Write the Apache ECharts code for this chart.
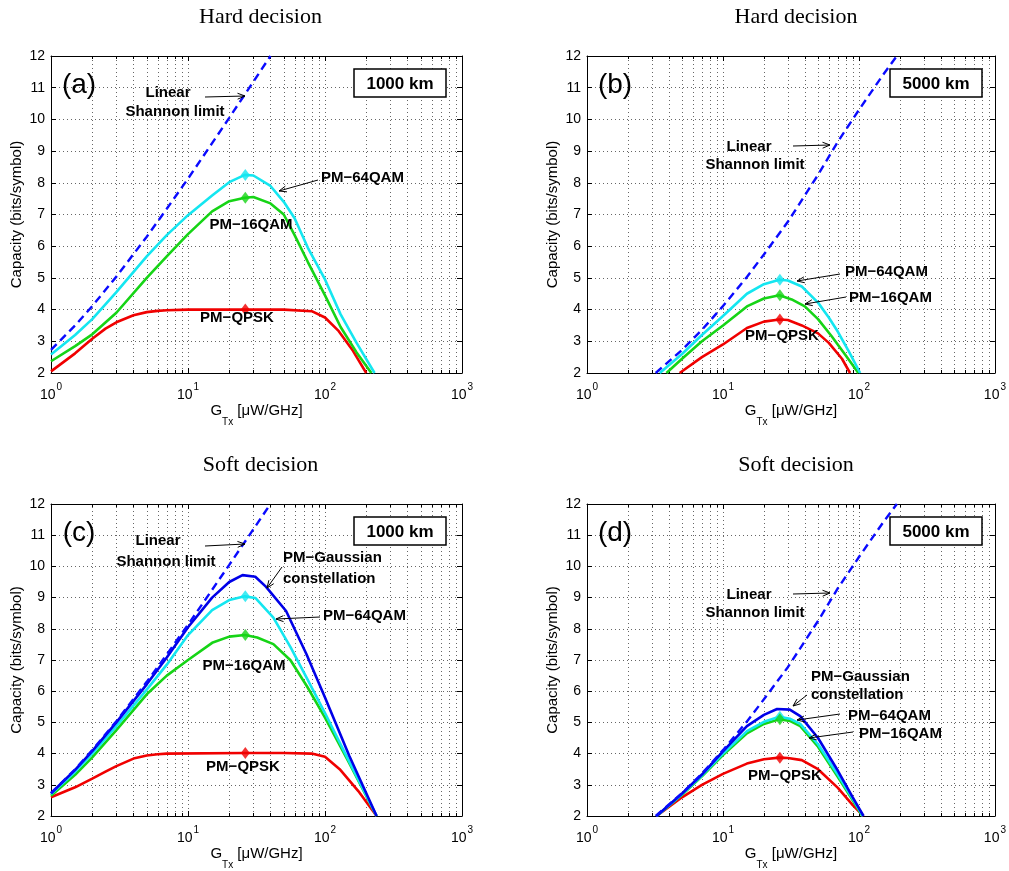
<!DOCTYPE html>
<html><head><meta charset="utf-8">
<script src="https://cdn.jsdelivr.net/npm/echarts@6/dist/echarts.min.js"></script>
<style>html,body{margin:0;padding:0;background:#fff}#chart{width:1009px;height:871px}</style>
</head><body><div id="chart"></div>
<script>
// ---------------- DATA ----------------
const xMinorTicks = [2,3,4,5,6,7,8,9,20,30,40,50,60,70,80,90,200,300,400,500,600,700,800,900];
const panelTitles = ['Hard decision','Hard decision','Soft decision','Soft decision'];
const panelLetters = ['(a)','(b)','(c)','(d)'];
const panelDistances = ['1000 km','5000 km','1000 km','5000 km'];

// Linear Shannon limit  [G_Tx, capacity]
const shannon1000 = [[1,2.73],[1.5,3.50],[2,4.11],[3,5.04],[5,6.30],[7,7.18],[10,8.13],[15,9.25],[20,10.05],[30,11.19],[40,12.0]];
const shannon5000 = [[3.2,2.0],[5,2.73],[7,3.36],[10,4.11],[15,5.03],[20,5.74],[30,6.77],[50,8.25],[70,9.3],[100,10.3],[150,11.4],[190,12.0]];

// (a) Hard decision, 1000 km
const hard1000Qam64 = [[1,2.58],[1.5,3.2],[2,3.7],[3,4.55],[5,5.68],[7,6.35],[10,6.98],[15,7.6],[20,8.02],[26,8.25],[30,8.23],[40,7.9],[50,7.4],[60,6.88],[75,5.95],[100,4.95],[130,3.85],[170,2.95],[230,2.0]];
const hard1000Qam16 = [[1,2.37],[1.5,2.85],[2,3.22],[3,3.9],[5,5.0],[7,5.68],[10,6.38],[15,7.1],[20,7.42],[26,7.53],[30,7.55],[40,7.35],[50,7.0],[60,6.35],[75,5.5],[100,4.45],[130,3.45],[170,2.65],[218,2.0]];
const hard1000Qpsk  = [[1,2.05],[1.5,2.62],[2,3.08],[2.5,3.4],[3,3.6],[4,3.82],[5,3.92],[6,3.96],[7,3.98],[10,4.0],[26,4.0],[50,4.0],[80,3.95],[100,3.75],[126,3.32],[160,2.7],[200,2.0]];
const hard1000Peaks = [[26.2,8.25],[26.2,7.53],[26.2,4.0]];

// (b) Hard decision, 5000 km
const hard5000Qam64 = [[3.43,2.0],[5,2.6],[7,3.2],[10,3.8],[15,4.5],[20,4.8],[26,4.94],[30,4.92],[38,4.73],[50,4.22],[60,3.75],[70,3.3],[85,2.65],[102,2.0]];
const hard5000Qam16 = [[3.84,2.0],[5,2.45],[7,3.0],[10,3.5],[15,4.1],[20,4.35],[26,4.45],[32,4.32],[40,4.1],[50,3.7],[63,3.16],[80,2.55],[99,2.0]];
const hard5000Qpsk  = [[4.8,2.0],[7,2.5],[10,2.9],[15,3.42],[20,3.62],[26,3.69],[30,3.67],[38,3.5],[50,3.25],[60,2.95],[75,2.45],[86,2.0]];
const hard5000Peaks = [[26.2,4.94],[26.2,4.45],[26.2,3.69]];

// (c) Soft decision, 1000 km
const soft1000Gauss = [[1,2.73],[1.5,3.48],[2,4.08],[3,5.0],[5,6.22],[7,7.08],[10,8.05],[15,9.0],[20,9.5],[25,9.72],[31,9.67],[37,9.35],[52,8.57],[73,7.2],[100,5.8],[150,3.94],[238,2.0]];
const soft1000Qam64 = [[1,2.7],[1.5,3.42],[2,4.0],[3,4.88],[5,6.05],[7,6.85],[10,7.8],[15,8.6],[20,8.92],[26,9.04],[31,8.99],[42,8.36],[56,7.41],[74,6.4],[100,5.3],[150,3.75],[238,2.0]];
const soft1000Qam16 = [[1,2.65],[1.5,3.32],[2,3.88],[3,4.75],[5,5.9],[7,6.5],[10,7.0],[15,7.55],[20,7.75],[26,7.8],[32,7.72],[42,7.51],[56,6.99],[74,6.15],[100,5.15],[150,3.7],[238,2.0]];
const soft1000Qpsk  = [[1,2.6],[1.5,2.92],[2,3.2],[2.5,3.42],[3,3.6],[4,3.84],[5,3.94],[6,3.98],[7,4.0],[26,4.02],[50,4.02],[80,4.0],[100,3.9],[128,3.5],[175,2.8],[238,2.0]];
const soft1000Peaks = [[26.2,9.04],[26.2,7.8],[26.2,4.02]];

// (d) Soft decision, 5000 km
const soft5000Gauss = [[3.25,2.0],[5,2.72],[7,3.33],[10,4.07],[15,4.88],[20,5.24],[25,5.43],[31,5.41],[37,5.2],[50,4.5],[70,3.45],[90,2.6],[108,2.0]];
const soft5000Qam64 = [[3.25,2.0],[5,2.7],[7,3.3],[10,4.0],[15,4.72],[20,5.02],[26,5.18],[31,5.12],[37,4.95],[50,4.3],[70,3.32],[90,2.55],[107,2.0]];
const soft5000Qam16 = [[3.25,2.0],[5,2.68],[7,3.27],[10,3.95],[15,4.65],[20,4.95],[26,5.1],[31,5.05],[37,4.88],[50,4.22],[70,3.25],[90,2.5],[106,2.0]];
const soft5000Qpsk  = [[3.25,2.0],[5,2.6],[7,3.0],[10,3.35],[15,3.68],[20,3.82],[26,3.87],[30,3.86],[38,3.79],[50,3.5],[70,2.9],[90,2.35],[108,2.0]];
const soft5000Peaks = [[26.2,5.18],[26.2,5.1],[26.2,3.87]];

// ---------------- STYLE ----------------
const SANS = 'Liberation Sans, Arial, Helvetica, sans-serif';
const SERIF = 'Liberation Serif, Times New Roman, serif';
const RED = '#f00000', GREEN = '#16d416', CYAN = '#14e6f0', BLUE = '#0000e8', SHANNON = '#0a0aff';
const GRID_DOT = '#666';

const grids = [
  {left:51, top:56, width:411, height:317},
  {left:587, top:56, width:410, height:317},
  {left:51, top:504, width:411, height:318},
  {left:587, top:504, width:410, height:318}
];

const panels = [
  {curves:[[hard1000Qpsk,RED],[hard1000Qam16,GREEN],[hard1000Qam64,CYAN]], shannon:shannon1000, peaks:hard1000Peaks},
  {curves:[[hard5000Qpsk,RED],[hard5000Qam16,GREEN],[hard5000Qam64,CYAN]], shannon:shannon5000, peaks:hard5000Peaks},
  {curves:[[soft1000Qpsk,RED],[soft1000Qam16,GREEN],[soft1000Qam64,CYAN],[soft1000Gauss,BLUE]], shannon:shannon1000, peaks:soft1000Peaks},
  {curves:[[soft5000Qpsk,RED],[soft5000Qam16,GREEN],[soft5000Qam64,CYAN],[soft5000Gauss,BLUE]], shannon:shannon5000, peaks:soft5000Peaks}
];
const peakColors = [CYAN, GREEN, RED];

const xAxes = [], yAxes = [], series = [], titles = [];
panels.forEach((p, i) => {
  const g = grids[i];
  titles.push({text: panelTitles[i], left: g.left + g.width/2 - 1, top: i < 2 ? 1 : 449, textAlign:'center',
    textStyle:{fontFamily:SERIF, fontSize:22, fontWeight:'normal', color:'#000'}});
  xAxes.push({
    gridIndex:i, type:'log', logBase:10, min:1, max:1000, position:'bottom',
    axisLine:{show:true, onZero:false, lineStyle:{color:'#000', width:1}},
    axisTick:{show:true, inside:true, length:5, lineStyle:{color:'#000'}},
    splitLine:{show:true, lineStyle:{color:GRID_DOT, width:1, type:[1,3]}},
    axisLabel:{margin:9, formatter: v => '{b|10}{s|' + Math.round(Math.log10(v)) + '}',
      rich:{ b:{fontFamily:SANS, fontSize:14, color:'#000', verticalAlign:'bottom', lineHeight:20},
             s:{fontFamily:SANS, fontSize:10, color:'#000', verticalAlign:'top', lineHeight:20, padding:[0,0,0,1]} }},
    name:'{n|G}{sub|Tx}{n| [μW/GHz]}', nameLocation:'middle', nameGap:30,
    nameTextStyle:{rich:{ n:{fontFamily:SANS, fontSize:15, color:'#000', verticalAlign:'top', lineHeight:24},
                          sub:{fontFamily:SANS, fontSize:10, color:'#000', verticalAlign:'bottom', lineHeight:24} }}
  });
  xAxes.push({
    gridIndex:i, type:'log', logBase:10, min:1, max:1000, position:'top',
    axisLine:{show:true, onZero:false, lineStyle:{color:'#000', width:1}},
    axisTick:{show:true, inside:true, length:5, lineStyle:{color:'#000'}},
    axisLabel:{show:false}, splitLine:{show:false}
  });
  yAxes.push({
    gridIndex:i, type:'value', min:2, max:12, interval:1, position:'left',
    axisLine:{show:true, onZero:false, lineStyle:{color:'#000', width:1}},
    axisTick:{show:true, inside:true, length:5, lineStyle:{color:'#000'}},
    splitLine:{show:true, lineStyle:{color:GRID_DOT, width:1, type:[1,3]}},
    axisLabel:{fontFamily:SANS, fontSize:14, color:'#000', margin:6},
    name:'Capacity (bits/symbol)', nameLocation:'middle', nameRotate:90, nameGap:27,
    nameTextStyle:{fontFamily:SANS, fontSize:15, color:'#000'}
  });
  yAxes.push({
    gridIndex:i, type:'value', min:2, max:12, interval:1, position:'right',
    axisLine:{show:true, onZero:false, lineStyle:{color:'#000', width:1}},
    axisTick:{show:true, inside:true, length:5, lineStyle:{color:'#000'}},
    axisLabel:{show:false}, splitLine:{show:false}
  });
  const xi = 2*i, yi = 2*i;
  // minor log grid lines and minor ticks
  series.push({
    type:'custom', xAxisIndex:xi, yAxisIndex:yi, silent:true, z:1, animation:false,
    data: xMinorTicks.map(v => [v, 2]),
    renderItem: (params, api) => {
      const x = api.value(0);
      const a = api.coord([x, 2]), b = api.coord([x, 12]);
      const px = Math.round(a[0]) + 0.5;
      return {type:'group', children:[
        {type:'line', shape:{x1:px, y1:a[1], x2:px, y2:b[1]}, style:{stroke:GRID_DOT, lineWidth:1, lineDash:[1,3]}},
        {type:'line', shape:{x1:px, y1:a[1], x2:px, y2:a[1]-3}, style:{stroke:'#000', lineWidth:1}},
        {type:'line', shape:{x1:px, y1:b[1], x2:px, y2:b[1]+3}, style:{stroke:'#000', lineWidth:1}}
      ]};
    }
  });
  p.curves.forEach(([data, color]) => {
    series.push({type:'line', xAxisIndex:xi, yAxisIndex:yi, data, showSymbol:false, symbol:'none',
      lineStyle:{color, width:2.6}, z:3, animation:false, silent:true, clip:true});
  });
  series.push({type:'line', xAxisIndex:xi, yAxisIndex:yi, data:p.shannon, showSymbol:false, symbol:'none',
    lineStyle:{color:SHANNON, width:2.4, type:[8,5]}, z:4, animation:false, silent:true, clip:true});
  series.push({type:'scatter', xAxisIndex:xi, yAxisIndex:yi, symbol:'diamond', symbolSize:[9,12], z:5,
    animation:false, silent:true,
    data: p.peaks.map((d, k) => ({value:d, itemStyle:{color:peakColors[k]}}))});
});

// ---------------- ANNOTATIONS (pixel layout) ----------------
const graphics = [];
function txt(x, y, s, size, weight, align) {
  graphics.push({type:'text', x, y, z:100, silent:true,
    style:{text:s, fontFamily:SANS, fontSize:size, fontWeight:weight||'bold', fill:'#000',
      align:align||'center', verticalAlign:'middle', textAlign:align||'center', textVerticalAlign:'middle'}});
}
function arrow(x1, y1, x2, y2) {
  const a = Math.atan2(y2-y1, x2-x1), L = 8, s = 0.38;
  graphics.push({type:'line', z:100, silent:true, shape:{x1, y1, x2, y2}, style:{stroke:'#000', lineWidth:1}});
  graphics.push({type:'polyline', z:100, silent:true,
    shape:{points:[[x2-L*Math.cos(a-s), y2-L*Math.sin(a-s)],[x2,y2],[x2-L*Math.cos(a+s), y2-L*Math.sin(a+s)]]},
    style:{stroke:'#000', lineWidth:1, fill:null}});
}
function box(x, y, w, h, s) {
  graphics.push({type:'rect', z:99, silent:true, shape:{x, y, width:w, height:h}, style:{fill:'#fff', stroke:'#000', lineWidth:1.5}});
  txt(x + w/2, y + h/2 + 1, s, 17, 'bold');
}
const DX = 536; // right column offset
[[79,85],[79+DX,85],[79,533],[79+DX,533]].forEach(([x,y],i) => txt(x, y, panelLetters[i], 28, 'normal'));
[[354,69],[354+DX,69],[354,517],[354+DX,517]].forEach(([x,y],i) => box(x, y, 92, 28, panelDistances[i]));
// (a)
txt(168, 93, 'Linear', 15); txt(175, 112, 'Shannon limit', 15); arrow(205, 97, 245, 96);
txt(321, 178, 'PM−64QAM', 15, 'bold', 'left'); arrow(318, 180, 279, 191);
txt(251, 225, 'PM−16QAM', 15);
txt(237, 318, 'PM−QPSK', 15);
// (b)
txt(749, 147, 'Linear', 15); txt(755, 165, 'Shannon limit', 15); arrow(793, 146, 830, 145);
txt(845, 272, 'PM−64QAM', 15, 'bold', 'left'); arrow(840, 274, 797, 281);
txt(849, 298, 'PM−16QAM', 15, 'bold', 'left'); arrow(846, 297, 805, 304);
txt(782, 336, 'PM−QPSK', 15);
// (c)
txt(158, 541, 'Linear', 15); txt(166, 562, 'Shannon limit', 15); arrow(205, 546, 245, 544);
txt(283, 558, 'PM−Gaussian', 15, 'bold', 'left'); txt(283, 579, 'constellation', 15, 'bold', 'left'); arrow(282, 567, 267, 588);
txt(323, 616, 'PM−64QAM', 15, 'bold', 'left'); arrow(320, 617, 276, 619);
txt(244, 666, 'PM−16QAM', 15);
txt(243, 767, 'PM−QPSK', 15);
// (d)
txt(749, 595, 'Linear', 15); txt(755, 613, 'Shannon limit', 15); arrow(793, 594, 830, 593);
txt(811, 677, 'PM−Gaussian', 15, 'bold', 'left'); txt(811, 695, 'constellation', 15, 'bold', 'left'); arrow(807, 695, 793, 706);
txt(848, 716, 'PM−64QAM', 15, 'bold', 'left'); arrow(840, 714, 797, 720);
txt(859, 734, 'PM−16QAM', 15, 'bold', 'left'); arrow(853, 732, 809, 738);
txt(785, 776, 'PM−QPSK', 15);

const chart = echarts.init(document.getElementById('chart'), null, {renderer:'canvas'});
chart.setOption({
  backgroundColor:'#fff', animation:false,
  title: titles, grid: grids, xAxis: xAxes, yAxis: yAxes, series, graphic: graphics
});
</script></body></html>
